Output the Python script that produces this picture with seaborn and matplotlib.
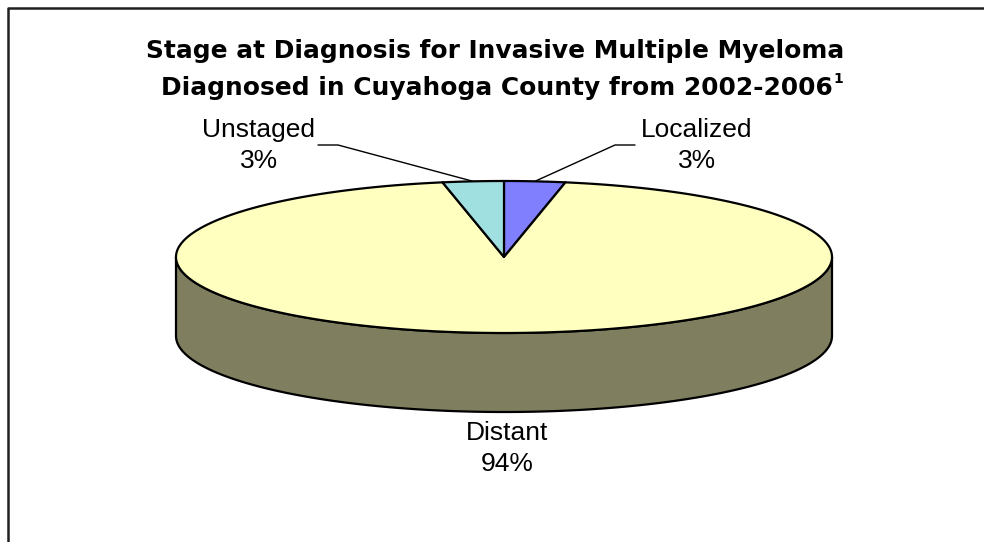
import numpy as np
import matplotlib
matplotlib.use("Agg")
import matplotlib.pyplot as plt
import matplotlib.transforms as mtransforms
from matplotlib.patches import Polygon
import seaborn as sns

# ---- data ----
categories = ["Localized", "Distant", "Unstaged"]
percents = [3, 94, 3]
top_colors = ["#8080FF", "#FFFFC0", "#A0E0E0"]
side_colors = ["#40407F", "#7F7F5F", "#507070"]
title_line1 = "Stage at Diagnosis for Invasive Multiple Myeloma"
title_line2 = "Diagnosed in Cuyahoga County from 2002-2006"
title_sup = "1"

sns.set_theme(style="white")
plt.rcParams["font.family"] = ["Liberation Sans", "DejaVu Sans"]

W, H = 984, 542
fig = plt.figure(figsize=(W / 100, H / 100), dpi=100)
ax = fig.add_axes([0, 0, 1, 1])
ax.set_xlim(0, W)
ax.set_ylim(H, 0)
ax.axis("off")

# pie geometry (pixel units)
cx, cy, rx, ry, depth = 504, 257, 328, 76, 79


def ell(theta_deg, dy=0.0):
    t = np.radians(theta_deg)
    return cx + rx * np.sin(t), cy - ry * np.cos(t) + dy


vals = np.array(percents, dtype=float)
angles = np.concatenate([[0], np.cumsum(vals / vals.sum() * 360.0)])

# sides (front half: 90..270 degrees)
for i in range(len(vals)):
    a0, a1 = angles[i], angles[i + 1]
    s0, s1 = max(a0, 90), min(a1, 270)
    if s1 <= s0:
        continue
    th = np.linspace(s0, s1, 300)
    xt, yt = ell(th)
    xb, yb = ell(th[::-1], depth)
    pts = np.column_stack([np.concatenate([xt, xb]), np.concatenate([yt, yb])])
    ax.add_patch(Polygon(pts, closed=True, facecolor=side_colors[i],
                         edgecolor="black", linewidth=1.6, joinstyle="round", zorder=2))

# top faces
for i in range(len(vals)):
    a0, a1 = angles[i], angles[i + 1]
    th = np.linspace(a0, a1, 400)
    xt, yt = ell(th)
    pts = np.column_stack([np.concatenate([[cx], xt]), np.concatenate([[cy], yt])])
    ax.add_patch(Polygon(pts, closed=True, facecolor=top_colors[i],
                         edgecolor="black", linewidth=1.6, joinstyle="round", zorder=3))

# labels
fs_lab = 19
label_pos = {
    "Unstaged": (259, 137, [(318, 145), (338, 145)]),
    "Localized": (697, 137, [(635, 145), (615, 145)]),
    "Distant": (507, 440, None),
}
for i, cat in enumerate(categories):
    lx, ly, elbow = label_pos[cat]
    ax.text(lx, ly, cat, ha="center", va="baseline", fontsize=fs_lab, color="black")
    ax.text(lx, ly + 31, f"{percents[i]}%", ha="center", va="baseline",
            fontsize=fs_lab, color="black")
    if elbow is not None:
        mid = (angles[i] + angles[i + 1]) / 2
        ax_, ay_ = ell(mid)
        xs = [elbow[0][0], elbow[1][0], ax_]
        ys = [elbow[0][1], elbow[1][1], ay_]
        ax.plot(xs, ys, color="black", linewidth=1.0, zorder=4)

# title
tfont = ["DejaVu Sans"]
t1 = ax.text(495, 58, title_line1, ha="center", va="baseline", fontsize=16.5,
             fontweight="bold", color="black", family=tfont)
t2 = ax.text(497, 95, title_line2, ha="center", va="baseline", fontsize=16.5,
             fontweight="bold", color="black", family=tfont)
fig.canvas.draw()
r = fig.canvas.get_renderer()
w1 = t1.get_window_extent(r).width
scale = 695.0 / w1
t1.set_fontsize(16.5 * scale)
t2.set_fontsize(16.5 * scale)
fig.canvas.draw()
bb = t2.get_window_extent(r)
ax.text(bb.x1 + 1, 83, title_sup, ha="left", va="baseline", fontsize=10,
        fontweight="bold", color="black", family=tfont,
        transform=mtransforms.blended_transform_factory(
            mtransforms.IdentityTransform(), ax.transData))

# frame
ax.plot([8, 8, W], [H, 7.5, 7.5], color="#202020", linewidth=1.8, zorder=5,
        solid_capstyle="butt")

fig.savefig("out.png", dpi=100)
